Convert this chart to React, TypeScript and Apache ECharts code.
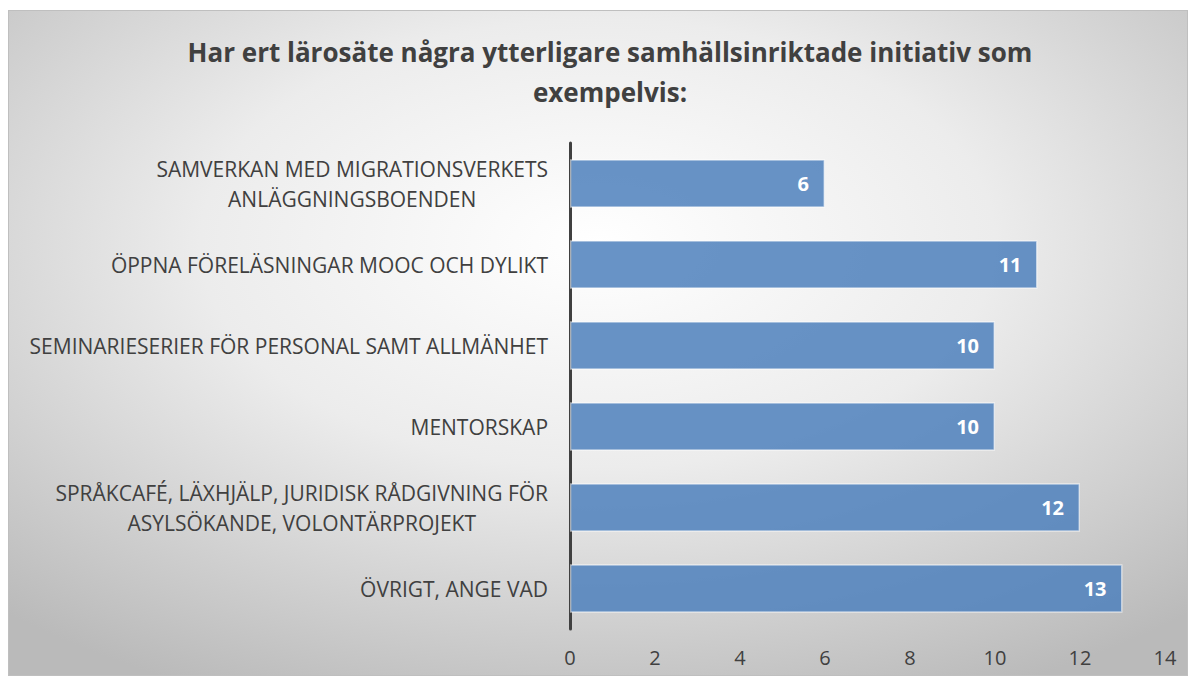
import React, { useEffect, useRef } from "react";
import * as echarts from "echarts";

const titleText = "Har ert lärosäte några ytterligare samhällsinriktade initiativ som\nexempelvis:";
const categories = [
  "SAMVERKAN MED MIGRATIONSVERKETS\nANLÄGGNINGSBOENDEN",
  "ÖPPNA FÖRELÄSNINGAR MOOC OCH DYLIKT",
  "SEMINARIESERIER FÖR PERSONAL SAMT ALLMÄNHET",
  "MENTORSKAP",
  "SPRÅKCAFÉ, LÄXHJÄLP, JURIDISK RÅDGIVNING FÖR\nASYLSÖKANDE, VOLONTÄRPROJEKT",
  "ÖVRIGT, ANGE VAD",
];
const values = [6, 11, 10, 10, 12, 13];
const axisMin = 0;
const axisMax = 14;
const axisStep = 2;

const FONT = "'Open Sans', 'Noto Sans', sans-serif";

export default function App() {
  const ref = useRef<HTMLDivElement>(null);
  useEffect(() => {
    if (!ref.current) return;
    const chart = echarts.init(ref.current, undefined, { renderer: "svg" });
    chart.setOption({
      animation: false,
      backgroundColor: {
        type: "radial",
        x: 0.5,
        y: 0.35,
        r: 0.75,
        colorStops: [
          { offset: 0, color: "#ffffff" },
          { offset: 0.45, color: "#ececec" },
          { offset: 1, color: "#bababa" },
        ],
      },
      title: {
        text: titleText,
        left: 596,
        top: 16,
        textAlign: "center",
        textStyle: {
          fontFamily: FONT,
          fontSize: 26,
          fontWeight: "bold",
          color: "#404040",
          lineHeight: 40,
        },
      },
      grid: { left: 561, right: 22, top: 132, bottom: 46, containLabel: false },
      xAxis: {
        type: "value",
        min: axisMin,
        max: axisMax,
        interval: axisStep,
        axisLine: { show: false },
        axisTick: { show: false },
        axisLabel: {
          color: "#404040",
          fontFamily: FONT,
          fontSize: 20,
          margin: 18,
        },
        splitLine: {
          show: true,
          lineStyle: {
            width: 1.5,
            color: {
              type: "linear",
              x: 0,
              y: 0,
              x2: 0,
              y2: 1,
              colorStops: [
                { offset: 0, color: "#d4d4d4" },
                { offset: 1, color: "#7a7a7a" },
              ],
            },
          },
        },
      },
      yAxis: {
        type: "category",
        inverse: true,
        data: categories,
        axisLine: { show: true, lineStyle: { color: "#404040", width: 3 } },
        axisTick: { show: false },
        axisLabel: {
          margin: 22,
          align: "right",
          formatter: (v: string) =>
            v
              .split("\n")
              .map((l) => `{c|${l}}`)
              .join("\n"),
          rich: {
            c: {
              align: "center",
              color: "#404040",
              fontFamily: FONT,
              fontSize: 21,
              lineHeight: 30,
            },
          },
        },
      },
      series: [
        {
          type: "bar",
          data: values,
          barWidth: "60%",
          itemStyle: {
            color: "rgba(79,129,189,0.86)",
            borderColor: "rgba(255,255,255,0.55)",
            borderWidth: 1.5,
          },
          label: {
            show: true,
            position: "insideRight",
            distance: 16,
            color: "#ffffff",
            fontFamily: FONT,
            fontWeight: "bold",
            fontSize: 20,
          },
        },
      ],
    });
    return () => chart.dispose();
  }, []);
  return (
    <div
      style={{
        marginTop: 2,
        width: 1180,
        height: 666,
        border: "1px solid #bfbfbf",
        boxSizing: "border-box",
      }}
    >
      <div ref={ref} style={{ width: 1178, height: 664 }} />
    </div>
  );
}
